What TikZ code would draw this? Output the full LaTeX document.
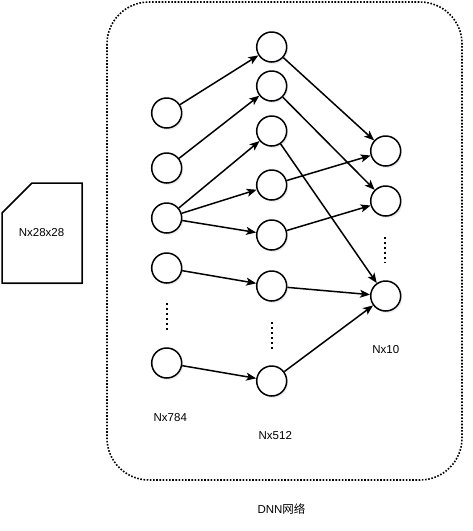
\documentclass[tikz,border=0pt]{standalone}
\usepackage{fontspec}
\setmainfont{Liberation Sans}
\newfontfamily\cjk{Noto Sans CJK SC}
\usetikzlibrary{arrows.meta,shadows}
\definecolor{netblack}{RGB}{0,0,0}
\definecolor{shadowgray}{RGB}{160,160,190}

\begin{document}
\begin{tikzpicture}[x=1pt, y=-1pt, font=\fontsize{11.5}{13}\selectfont, >={Stealth[length=10pt,width=8pt,inset=2.5pt]},
  neuron/.style={draw=netblack, circle, line width=1.5pt, fill=white, minimum size=30pt, inner sep=0pt,
                 drop shadow={opacity=0.18, shadow xshift=1.5pt, shadow yshift=-2pt, fill=shadowgray}},
  conn/.style={->, draw=netblack, line width=1.5pt},
  vdots/.style={draw=netblack, line width=2pt, dash pattern=on 2pt off 3pt},
  lbl/.style={inner sep=0pt}]
\useasboundingbox (0,0) rectangle (473,531);

% --- network frame ---
\draw[netblack, line width=1.6pt, dash pattern=on 1.6pt off 1.6pt, rounded corners=42pt]
  (107,2) rectangle (462,480);
\node[lbl] (net) at (281.5,509) {DNN{\cjk 网络}};

% --- input image ---
\draw[netblack, line width=1.5pt, fill=white,
      drop shadow={opacity=0.18, shadow xshift=1.5pt, shadow yshift=-2pt, fill=shadowgray}]
  (2,213) -- (32,183) -- (82,183) -- (82,283) -- (2,283) -- cycle;
\node[lbl] (file) at (41.5,233) {Nx28x28};

% --- input layer ---
\foreach \n/\y in {1/113, 2/168, 3/218, 4/268, 5/363}{
  \node[neuron] (in\n) at (166.7,\y) {};
}
\coordinate (indA) at (166.7,303);
\coordinate (indB) at (166.7,331);
\draw[vdots] (indA) -- (indB);
\node[lbl] (lin) at (170.3,418) {Nx784};

% --- hidden layer ---
\foreach \n/\y in {1/47, 2/86, 3/131, 4/185, 5/235, 6/286, 7/381}{
  \node[neuron] (hid\n) at (271.7,\y) {};
}
\coordinate (hidA) at (271.7,322);
\coordinate (hidB) at (271.7,349);
\draw[vdots] (hidA) -- (hidB);
\node[lbl] (lhid) at (275.3,436) {Nx512};

% --- output layer ---
\foreach \n/\y in {1/151, 2/201, 3/296}{
  \node[neuron] (out\n) at (385.7,\y) {};
}
\coordinate (outA) at (385,237);
\coordinate (outB) at (385,263);
\draw[vdots] (outA) -- (outB);
\node[lbl] (lout) at (385.8,350) {Nx10};

% --- connections ---
\foreach \a/\b in {in1/hid1, in2/hid2, in3/hid3, in3/hid4, in3/hid5, in4/hid6, in5/hid7,
                   hid1/out1, hid2/out2, hid3/out3, hid4/out1, hid5/out2, hid6/out3, hid7/out3}{
  \draw[conn] (\a) -- (\b);
}
\end{tikzpicture}
\end{document}
